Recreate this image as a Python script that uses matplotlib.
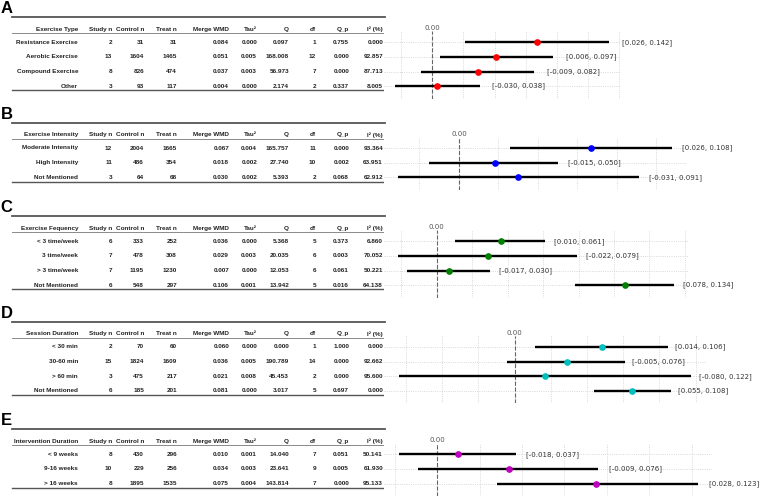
import numpy as np
import matplotlib
matplotlib.use("Agg")
import matplotlib.pyplot as plt
from matplotlib.ticker import MultipleLocator

plt.rcParams['font.family'] = ['Liberation Sans', 'DejaVu Sans']

# daten der fünf subgruppen
letters = ["A", "B", "C", "D", "E"]
group_names = ["Exercise Type", "Exercise Intensity", "Exercise Fequency",
               "Session Duration", "Intervention Duration"]
dot_colors = ["red", "blue", "green", "c", "m"]

labels = [
    ["Resistance Exercise", "Aerobic Exercise", "Compound Exercise", "Other"],
    ["Moderate Intensity", "High Intensity", "Not Mentioned"],
    ["< 3 time/week", "3 time/week", "> 3 time/week", "Not Mentioned"],
    ["< 30 min", "30-60 min", "> 60 min", "Not Mentioned"],
    ["< 9 weeks", "9-16 weeks", "> 16 weeks"],
]
study_n = [[2, 13, 8, 3], [12, 11, 3], [6, 7, 7, 6], [2, 15, 3, 6], [8, 10, 8]]
control_n = [[31, 1604, 826, 93], [2004, 486, 64], [333, 478, 1195, 548],
             [70, 1824, 475, 185], [430, 229, 1895]]
treat_n = [[31, 1465, 474, 117], [1665, 354, 68], [252, 308, 1230, 297],
           [60, 1609, 217, 201], [296, 256, 1535]]
wmd = [[0.084, 0.051, 0.037, 0.004], [0.067, 0.018, 0.030],
       [0.036, 0.029, 0.007, 0.106], [0.060, 0.036, 0.021, 0.081],
       [0.010, 0.034, 0.075]]
tau2 = [[0.000, 0.005, 0.003, 0.000], [0.004, 0.002, 0.002],
        [0.000, 0.003, 0.000, 0.001], [0.000, 0.005, 0.008, 0.000],
        [0.001, 0.003, 0.004]]
q_stat = [[0.097, 168.008, 56.973, 2.174], [165.757, 27.740, 5.393],
          [5.368, 20.035, 12.053, 13.942], [0.000, 190.789, 45.453, 3.017],
          [14.040, 23.641, 143.814]]
dfs = [[1, 12, 7, 2], [11, 10, 2], [5, 6, 6, 5], [1, 14, 2, 5], [7, 9, 7]]
q_p = [[0.755, 0.000, 0.000, 0.337], [0.000, 0.002, 0.068],
       [0.373, 0.003, 0.061, 0.016], [1.000, 0.000, 0.000, 0.697],
       [0.051, 0.005, 0.000]]
i2 = [[0.000, 92.857, 87.713, 8.005], [93.364, 63.951, 62.912],
      [6.860, 70.052, 50.221, 64.138], [0.000, 92.662, 95.600, 0.000],
      [50.141, 61.930, 95.133]]
ci_lo = [[0.026, 0.006, -0.009, -0.030], [0.026, -0.015, -0.031],
         [0.010, -0.022, -0.017, 0.078], [0.014, -0.005, -0.080, 0.055],
         [-0.018, -0.009, 0.028]]
ci_hi = [[0.142, 0.097, 0.082, 0.038], [0.108, 0.050, 0.091],
         [0.061, 0.079, 0.030, 0.134], [0.106, 0.076, 0.122, 0.108],
         [0.037, 0.076, 0.123]]

col_heads = ["Study n", "Control n", "Treat n", "Merge WMD", "Tau\u00b2",
             "Q", "df", "Q_p", "I\u00b2 (%)"]

# layout in pixeln
W, H = 760, 496
row0 = [42.3, 148.0, 241.3, 347.0, 454.3]
row_sp = 14.6
forest_right = [620, 686, 688, 706, 713]
tick_step = [0.025, 0.02, 0.02, 0.025, 0.02]
label_off = [0.010, 0.005, 0.005, 0.005, 0.005]
col_right = [78, 112, 144, 177, 229, 257, 289, 316, 349, 383]


def rect(left, top, right, bottom):
    return [left / W, 1 - bottom / H, (right - left) / W, (bottom - top) / H]


fig = plt.figure(figsize=(W / 100, H / 100), dpi=100)

for i in range(5):
    n = len(labels[i])
    rows = np.arange(n)
    top = row0[i] - 0.75 * row_sp
    bottom = row0[i] + (n - 1 + 0.85) * row_sp
    ylim = (n - 1 + 0.85, -0.75)

    # tabelle
    axt = fig.add_axes(rect(12, top, 385, bottom))
    axt.set_xlim(12, 385)
    axt.set_ylim(*ylim)
    axt.axis('off')
    tk = dict(ha='right', va='center', fontsize=4.6, fontweight='bold',
              color='#222222', clip_on=False)
    axt.text(col_right[0], -0.9, group_names[i], **tk)
    for j, h in enumerate(col_heads):
        axt.text(col_right[j + 1], -0.9, h, **tk)
    for r in rows:
        cells = [labels[i][r], str(study_n[i][r]), str(control_n[i][r]),
                 str(treat_n[i][r]), f"{wmd[i][r]:.3f}", f"{tau2[i][r]:.3f}",
                 f"{q_stat[i][r]:.3f}", str(dfs[i][r]), f"{q_p[i][r]:.3f}",
                 f"{i2[i][r]:.3f}"]
        for j, c in enumerate(cells):
            axt.text(col_right[j], r, c, **tk)
    axt.axhline(-1.72, color='#555555', lw=1.3, clip_on=False)
    axt.axhline(-0.62, color='#777777', lw=0.6, clip_on=False)
    axt.axhline(n - 1 + 0.3, color='#555555', lw=1.0, clip_on=False)
    axt.text(0.5, -2.3, letters[i], ha='left', va='center', fontsize=12,
             fontweight='bold', color='black', clip_on=False)

    # forest plot
    ax = fig.add_axes(rect(384, top, forest_right[i], bottom))
    ax.hlines(rows, ci_lo[i], ci_hi[i], color='black', lw=1.7, zorder=3)
    ax.plot(wmd[i], rows, 'o', color=dot_colors[i], ms=3.8, zorder=4)
    ax.axvline(0, color='#666666', ls='--', lw=0.8, zorder=2)
    ax.set_ylim(*ylim)
    ax.set_yticks(rows)
    ax.xaxis.set_major_locator(MultipleLocator(tick_step[i]))
    ax.grid(True, ls=':', color='#cccccc', lw=0.6)
    ax.set_axisbelow(True)
    ax.tick_params(length=0, labelbottom=False, labelleft=False)
    for s in ax.spines.values():
        s.set_visible(False)
    ax.text(0, 1.0, "0.00", transform=ax.get_xaxis_transform(), ha='center',
            va='bottom', fontsize=5, color='#555555', family='DejaVu Sans')
    for r in rows:
        ax.text(ci_hi[i][r] + label_off[i], r,
                f"[{ci_lo[i][r]:.3f}, {ci_hi[i][r]:.3f}]", ha='left',
                va='center', fontsize=5, color='#333333', family='DejaVu Sans')

fig.savefig("out.png", dpi=100)
